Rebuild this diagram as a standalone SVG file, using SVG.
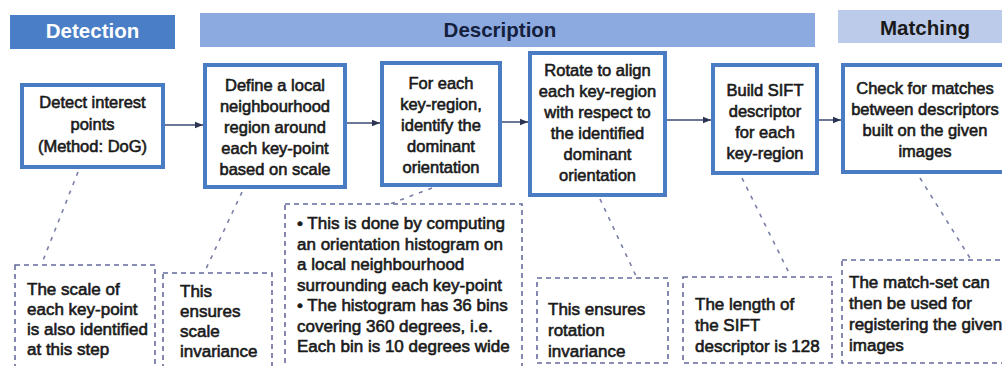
<svg xmlns="http://www.w3.org/2000/svg" width="1002" height="366" viewBox="0 0 1002 366">
<style>
.hd{font-family:"Liberation Sans",Arial,sans-serif;font-weight:bold;font-size:20.5px;text-anchor:middle}
.node rect{fill:#fff;stroke:#4a7cc4;stroke-width:4}
.nt{font-family:"Liberation Sans",Arial,sans-serif;font-size:16.5px;fill:#1a1a1a;stroke:#1a1a1a;stroke-width:0.6;text-anchor:middle}
.note rect{fill:#fff;stroke:#666a9c;stroke-width:1.6;stroke-dasharray:5 4}
.ntx{font-family:"Liberation Sans",Arial,sans-serif;font-size:17px;fill:#1a1a1a;stroke:#1a1a1a;stroke-width:0.6}
.arr{stroke:#3a4a70;stroke-width:1.5;fill:none;marker-end:url(#ah)}
.dsh{stroke:#7a7fa8;stroke-width:1.6;stroke-dasharray:4 6;fill:none}
</style>
<defs>
<marker id="ah" viewBox="0 0 10 10" refX="10" refY="5" markerWidth="8" markerHeight="8" markerUnits="userSpaceOnUse" orient="auto">
<path d="M0,1 L10,5 L0,9 z" fill="#2a3450"/>
</marker>
</defs>
<rect width="1002" height="366" fill="#fff"/>

<g id="hdr-detection"><rect x="10" y="15" width="165" height="34" fill="#4a7ec6"/><text class="hd" x="92.5" y="38" fill="#fff">Detection</text></g>
<g id="hdr-description"><rect x="200" y="13" width="615" height="34" fill="#8caadf"/><text class="hd" x="500" y="37" fill="#14203c">Description</text></g>
<g id="hdr-matching"><rect x="838" y="10" width="170" height="33" fill="#bccbe9"/><text class="hd" x="925" y="35" fill="#1a1a1a">Matching</text></g>

<g id="connectors">
<line class="arr" x1="165" y1="125" x2="203" y2="125"/>
<line class="arr" x1="347" y1="123" x2="380" y2="123"/>
<line class="arr" x1="502" y1="122" x2="528" y2="122"/>
<line class="arr" x1="667" y1="120" x2="711" y2="120"/>
<line class="arr" x1="819" y1="120" x2="841" y2="120"/>
<line class="dsh" x1="78" y1="172" x2="42" y2="263"/>
<line class="dsh" x1="242" y1="192" x2="205" y2="271"/>
<line class="dsh" x1="432" y1="188" x2="390" y2="204"/>
<line class="dsh" x1="600" y1="199" x2="636" y2="276"/>
<line class="dsh" x1="742" y1="178" x2="790" y2="275"/>
<line class="dsh" x1="920" y1="178" x2="970" y2="258"/>
</g>

<g id="n1" class="node"><rect x="22" y="85" width="141" height="82"/>
<text class="nt"><tspan x="92.5" y="108">Detect interest</tspan><tspan x="92.5" y="130">points</tspan><tspan x="92.5" y="152">(Method: DoG)</tspan></text></g>
<g id="n2" class="node"><rect x="205" y="65" width="140" height="122"/>
<text class="nt"><tspan x="275" y="91">Define a local</tspan><tspan x="275" y="112">neighbourhood</tspan><tspan x="275" y="133">region around</tspan><tspan x="275" y="154">each key-point</tspan><tspan x="275" y="175">based on scale</tspan></text></g>
<g id="n3" class="node"><rect x="382" y="63" width="118" height="122"/>
<text class="nt"><tspan x="441" y="89">For each</tspan><tspan x="441" y="110">key-region,</tspan><tspan x="441" y="131">identify the</tspan><tspan x="441" y="152">dominant</tspan><tspan x="441" y="173">orientation</tspan></text></g>
<g id="n4" class="node"><rect x="530" y="53" width="135" height="142"/>
<text class="nt"><tspan x="597.5" y="76">Rotate to align</tspan><tspan x="597.5" y="97">each key-region</tspan><tspan x="597.5" y="118">with respect to</tspan><tspan x="597.5" y="139">the identified</tspan><tspan x="597.5" y="160">dominant</tspan><tspan x="597.5" y="181">orientation</tspan></text></g>
<g id="n5" class="node"><rect x="713" y="65" width="104" height="108"/>
<text class="nt"><tspan x="765" y="96">Build SIFT</tspan><tspan x="765" y="117">descriptor</tspan><tspan x="765" y="138">for each</tspan><tspan x="765" y="159">key-region</tspan></text></g>
<g id="n6" class="node"><rect x="843" y="65" width="165" height="107"/>
<text class="nt"><tspan x="925" y="94">Check for matches</tspan><tspan x="925" y="115">between descriptors</tspan><tspan x="925" y="136">built on the given</tspan><tspan x="925" y="157">images</tspan></text></g>

<g id="note1" class="note"><rect x="15" y="265" width="140" height="110"/>
<text class="ntx"><tspan x="27" y="295">The scale of</tspan><tspan x="27" y="315">each key-point</tspan><tspan x="27" y="335">is also identified</tspan><tspan x="27" y="355">at this step</tspan></text></g>
<g id="note2" class="note"><rect x="163" y="273" width="109" height="110"/>
<text class="ntx"><tspan x="180" y="297">This</tspan><tspan x="180" y="317">ensures</tspan><tspan x="180" y="337">scale</tspan><tspan x="180" y="357">invariance</tspan></text></g>
<g id="note3" class="note"><rect x="285" y="204" width="237" height="180"/>
<text class="ntx"><tspan x="297" y="229">• This is done by computing</tspan><tspan x="297" y="249.5">an orientation histogram on</tspan><tspan x="297" y="270">a local neighbourhood</tspan><tspan x="297" y="290.5">surrounding each key-point</tspan><tspan x="297" y="311">• The histogram has 36 bins</tspan><tspan x="297" y="331.5">covering 360 degrees, i.e.</tspan><tspan x="297" y="352">Each bin is 10 degrees wide</tspan></text></g>
<g id="note4" class="note"><rect x="537" y="278" width="131" height="85"/>
<text class="ntx"><tspan x="548" y="315">This ensures</tspan><tspan x="548" y="336">rotation</tspan><tspan x="548" y="357">invariance</tspan></text></g>
<g id="note5" class="note"><rect x="683" y="277" width="149" height="86"/>
<text class="ntx"><tspan x="695" y="310">The length of</tspan><tspan x="695" y="331">the SIFT</tspan><tspan x="695" y="352">descriptor is 128</tspan></text></g>
<g id="note6" class="note"><rect x="842" y="260" width="170" height="103"/>
<text class="ntx"><tspan x="849" y="288">The match-set can</tspan><tspan x="849" y="309">then be used for</tspan><tspan x="849" y="330">registering the given</tspan><tspan x="849" y="351">images</tspan></text></g>
</svg>
